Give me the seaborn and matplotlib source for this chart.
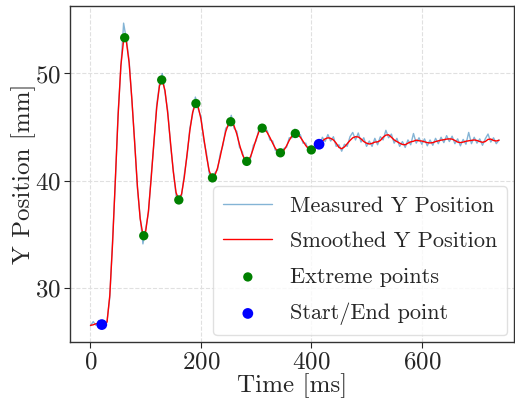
import numpy as np
import matplotlib
matplotlib.use("Agg")
import matplotlib.pyplot as plt
import seaborn as sns

# time axis (ms), sampled every 5 ms
time_ms = np.arange(0, 745, 5)

# smoothed Y position [mm]
y_smooth = [
    26.5, 26.55, 26.65, 26.68, 26.62, 26.6, 26.8, 29.3, 34.1, 40.0,
    46.0, 50.7, 53.1, 53.0, 51.0, 47.6, 43.5, 39.5, 36.45, 34.95,
    35.27, 37.17, 40.24, 43.69, 46.83, 48.86, 49.37, 48.4, 46.24, 43.52,
    40.84, 38.9, 38.2, 38.76, 40.33, 42.48, 44.68, 46.36, 47.17, 46.9,
    45.77, 44.09, 42.34, 40.92, 40.28, 40.45, 41.16, 42.25, 43.48, 44.58,
    45.31, 45.49, 45.13, 44.35, 43.35, 42.47, 41.9, 41.84, 42.25, 43.01,
    43.86, 44.56, 44.89, 44.82, 44.5, 44.03, 43.49, 43.0, 42.68, 42.61,
    42.81, 43.24, 43.76, 44.19, 44.39, 44.33, 44.06, 43.68, 43.27, 42.98,
    42.87, 43.0, 43.22, 43.45, 43.7, 43.9, 44.0, 43.95, 43.8, 43.5,
    43.1, 42.98, 43.15, 43.45, 43.75, 44.0, 44.1, 44.08, 43.9, 43.65,
    43.5, 43.42, 43.48, 43.6, 43.62, 43.75, 44.05, 44.25, 44.28, 44.05,
    43.8, 43.65, 43.5, 43.38, 43.35, 43.5, 43.62, 43.68, 43.78, 43.72,
    43.7, 43.62, 43.55, 43.52, 43.55, 43.65, 43.72, 43.78, 43.82, 43.88,
    43.9, 43.88, 43.75, 43.6, 43.55, 43.6, 43.68, 43.72, 43.75, 43.8,
    43.75, 43.65, 43.58, 43.65, 43.85, 43.88, 43.75, 43.7, 43.78,
]

# raw measured Y position [mm]
y_measured = [
    26.45, 26.85, 26.5, 26.95, 26.55, 26.7, 26.9, 29.1, 34.4, 39.8,
    46.3, 50.5, 54.7, 53.2, 51.2, 47.4, 43.7, 39.3, 36.6, 34.1,
    35.5, 37.0, 40.5, 43.5, 47.1, 49.0, 50.0, 48.2, 46.5, 43.3,
    41.0, 38.6, 38.5, 38.6, 40.6, 42.3, 44.9, 46.2, 47.8, 46.7,
    46.0, 43.8, 42.6, 40.7, 39.9, 40.7, 41.0, 42.5, 43.3, 44.9,
    45.1, 46.1, 44.9, 44.6, 43.1, 42.7, 41.6, 42.0, 42.1, 43.3,
    43.7, 44.8, 45.2, 44.6, 44.7, 43.8, 43.7, 42.8, 42.9, 42.4,
    43.0, 43.1, 44.0, 44.0, 44.8, 44.1, 44.3, 43.5, 43.5, 42.8,
    43.05, 42.75, 43.5, 43.25, 44.05, 43.65, 44.3, 43.7, 44.1, 43.2,
    43.35, 42.75, 43.4, 43.2, 44.1, 44.5, 43.8, 44.45, 43.6, 44.0,
    43.2, 43.7, 43.2, 43.95, 43.35, 44.1, 43.8, 44.7, 44.0, 44.35,
    43.5, 43.95, 43.2, 43.65, 43.1, 43.8, 43.35, 44.4, 43.5, 44.0,
    43.4, 43.9, 43.25, 43.8, 43.3, 43.95, 43.45, 44.05, 43.55, 44.2,
    43.65, 44.15, 43.45, 43.9, 43.25, 43.85, 43.4, 44.5, 43.45, 44.05,
    43.5, 43.9, 43.3, 43.9, 44.35, 43.6, 44.0, 43.45, 43.8,
]

# extreme points (time ms, y mm)
extreme_t = [62, 96.5, 129, 160, 191, 221, 254, 283, 311, 344, 371, 400]
extreme_y = [53.34, 34.86, 49.4, 38.2, 47.2, 40.26, 45.5, 41.8, 44.9, 42.6, 44.4, 42.87]

# start / end points
start_end_t = [20.5, 414]
start_end_y = [26.57, 43.4]

sns.set_style("ticks")
plt.rcParams["font.family"] = "serif"
plt.rcParams["font.serif"] = ["cmr10", "DejaVu Serif"]
plt.rcParams["mathtext.fontset"] = "cm"
plt.rcParams["axes.formatter.use_mathtext"] = True

fig = plt.figure(figsize=(5.15, 3.99), dpi=100)
ax = fig.add_axes([0.136, 0.143, 0.862, 0.842])

sns.lineplot(x=time_ms, y=y_measured, ax=ax, color="tab:blue", alpha=0.55,
             linewidth=1.0, label="Measured Y Position")
sns.lineplot(x=time_ms, y=y_smooth, ax=ax, color="red", linewidth=1.0,
             label="Smoothed Y Position")
sns.scatterplot(x=extreme_t, y=extreme_y, ax=ax, color="green", s=45,
                edgecolor="none", label="Extreme points", zorder=3)
sns.scatterplot(x=start_end_t, y=start_end_y, ax=ax, color="blue", s=60,
                edgecolor="none", label="Start/End point", zorder=4)

ax.set_xlim(-37, 767)
ax.set_ylim(24.95, 56.3)
ax.set_xticks([0, 200, 400, 600])
ax.set_yticks([30, 40, 50])
ax.grid(True, linestyle="--", color="0.88", linewidth=0.8)
ax.tick_params(labelsize=18, length=4, pad=2.5)
ax.set_xlabel("Time [ms]", fontsize=18, labelpad=0)
ax.set_ylabel("Y Position [mm]", fontsize=18, labelpad=-1)
for sp in ax.spines.values():
    sp.set_color("0.2")
    sp.set_linewidth(1.0)

leg = ax.legend(loc="lower right", fontsize=16, frameon=True, borderpad=0.45,
                borderaxespad=0.3, handlelength=2.2, handletextpad=0.8,
                labelspacing=0.72)
leg.get_frame().set_edgecolor("0.85")

fig.savefig("out.png", dpi=100)
